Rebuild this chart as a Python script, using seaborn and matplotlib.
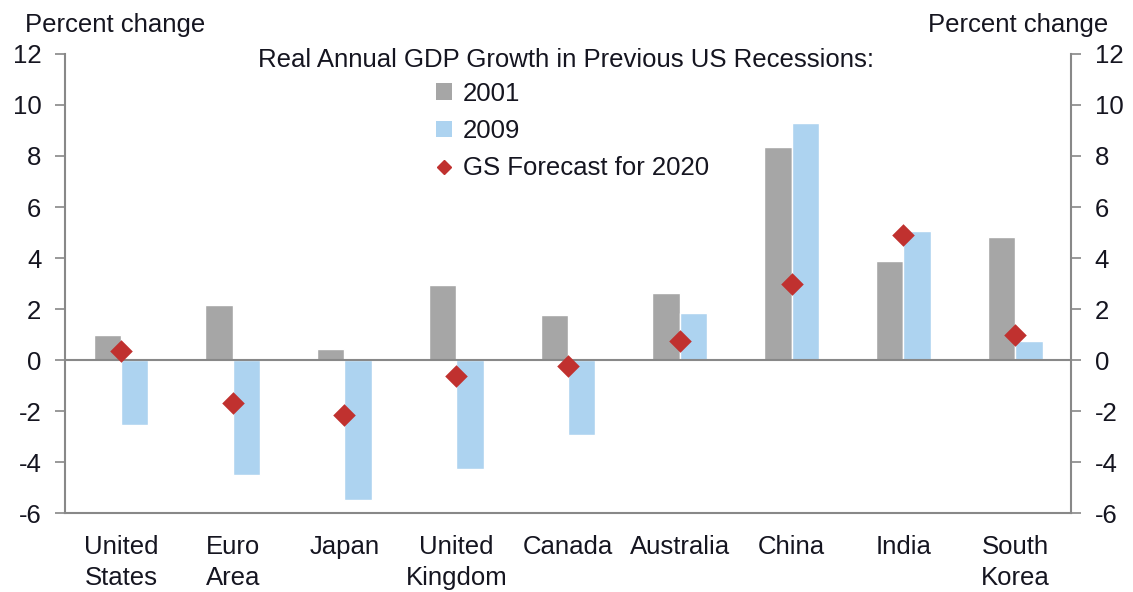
import numpy as np
import pandas as pd
import matplotlib
matplotlib.use("Agg")
import matplotlib.pyplot as plt
import seaborn as sns
from matplotlib.patches import Patch
from matplotlib.lines import Line2D

countries = ["United\nStates", "Euro\nArea", "Japan", "United\nKingdom", "Canada",
             "Australia", "China", "India", "South\nKorea"]
gdp_2001 = [1.0, 2.15, 0.42, 2.93, 1.75, 2.61, 8.34, 3.87, 4.81]
gdp_2009 = [-2.55, -4.52, -5.48, -4.29, -2.94, 1.83, 9.28, 5.05, 0.73]
gs_2020 = [0.35, -1.7, -2.17, -0.61, -0.24, 0.75, 3.0, 4.89, 0.97]
yticks = list(range(-6, 13, 2))

sns.set_theme(style="white")
plt.rcParams["font.family"] = ["Liberation Sans", "DejaVu Sans"]
plt.rcParams["text.color"] = "#151520"
plt.rcParams["xtick.color"] = "#151520"
plt.rcParams["ytick.color"] = "#151520"

FS = 18.5
GRAY = "#A6A6A6"
BLUE = "#ADD3F0"
RED = "#C0312F"
SPINE = "#888888"

df = pd.DataFrame({
    "country": countries * 2,
    "value": gdp_2001 + gdp_2009,
    "year": ["2001"] * len(countries) + ["2009"] * len(countries),
})

fig = plt.figure(figsize=(11.33, 5.92), dpi=100)
ax = fig.add_axes([0.0574, 0.1334, 0.8879, 0.7754])

sns.barplot(data=df, x="country", y="value", hue="year", order=countries,
            palette={"2001": GRAY, "2009": BLUE}, width=0.49, gap=0,
            saturation=1, legend=False, ax=ax, errorbar=None)
ax.axhline(0, color=SPINE, lw=1.5, zorder=2)
sns.stripplot(x=countries, y=gs_2020, order=countries, marker="D", jitter=False,
              color=RED, size=11.5, linewidth=0, ax=ax, zorder=5)

ax.set_xlim(-0.5, len(countries) - 0.5)
ax.set_ylim(-6, 12)
ax.set_yticks(yticks)
ax.set_yticklabels([str(t) for t in yticks], fontsize=FS)
ax.set_xlabel("")
ax.set_ylabel("")
ax.set_xticks(range(len(countries)))
ax.set_xticklabels(countries, fontsize=FS, linespacing=1.33)
ax.set_xticks(np.arange(-0.5, len(countries), 1), minor=True)
ax.tick_params(axis="x", which="major", length=0, pad=16)
ax.tick_params(axis="x", which="minor", length=8, width=1.2, color=SPINE, direction="out")
ax.tick_params(axis="y", length=7, width=1.2, color=SPINE, direction="out", pad=10)

for s in ["top", "right"]:
    ax.spines[s].set_visible(False)
for s in ["left", "bottom"]:
    ax.spines[s].set_color(SPINE)
    ax.spines[s].set_linewidth(1.5)

ax2 = ax.twinx()
ax2.set_ylim(-6, 12)
ax2.set_yticks(yticks)
ax2.set_yticklabels([str(t) for t in yticks], fontsize=FS)
ax2.tick_params(axis="y", length=7, width=1.2, color=SPINE, direction="out", pad=10)
for s in ["top", "left", "bottom"]:
    ax2.spines[s].set_visible(False)
ax2.spines["right"].set_color(SPINE)
ax2.spines["right"].set_linewidth(1.5)
ax2.grid(False)

fig.text(0.022, 0.958, "Percent change", fontsize=FS, va="center", ha="left")
fig.text(0.978, 0.958, "Percent change", fontsize=FS, va="center", ha="right")
fig.text(0.5, 0.899, "Real Annual GDP Growth in Previous US Recessions:",
         fontsize=FS, va="center", ha="center")

handles = [Patch(facecolor=GRAY, edgecolor="none"),
           Patch(facecolor=BLUE, edgecolor="none"),
           Line2D([], [], marker="D", color=RED, linestyle="none", markersize=7)]
fig.legend(handles, ["2001", "2009", "GS Forecast for 2020"], loc="upper left",
           bbox_to_anchor=(0.385, 0.862), frameon=False, fontsize=FS,
           handlelength=0.6, handleheight=0.6, handletextpad=0.45,
           labelspacing=0.52, borderaxespad=0, borderpad=0)

fig.savefig("out.png", dpi=100)
